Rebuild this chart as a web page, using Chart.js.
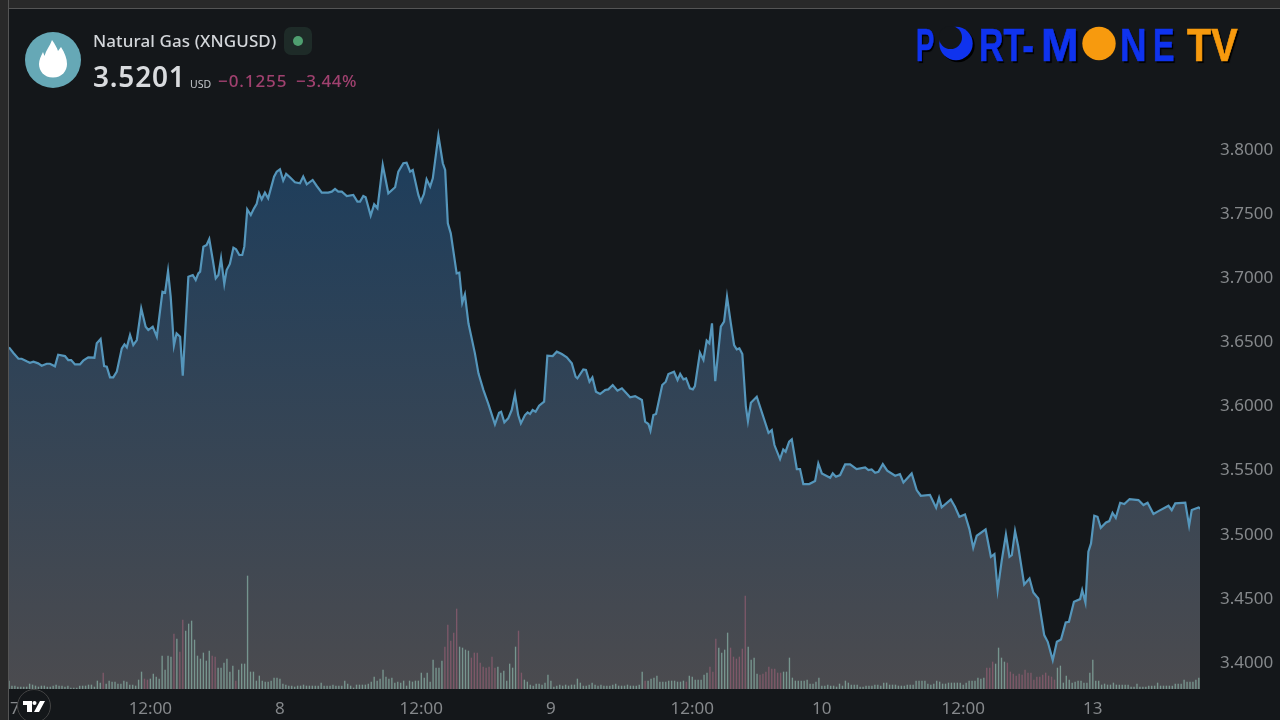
<!DOCTYPE html>
<html lang="en">

<head>
    <meta charset="UTF-8">
    <title>Natural Gas (XNGUSD)</title>
    <style>
        html, body { margin: 0; padding: 0; background: #14171a; overflow: hidden; }
        #wrap { position: relative; width: 1280px; height: 720px; font-family: "Noto Sans", sans-serif; }
        #myChart { position: absolute; left: 0; top: 0; }
        .abs { position: absolute; white-space: nowrap; line-height: 1; }
        .frameTop { left: 0; top: 0; width: 1280px; height: 8px; background: #292929; border-bottom: 1px solid #555; }
        .frameLeft { left: 0; top: 0; width: 8px; height: 720px; background: #292929; border-right: 1px solid #555; }
        .logo { font-family: "Liberation Sans", sans-serif; font-weight: 700; font-size: 46px; top: 22px;
                -webkit-text-stroke: .7px currentColor; text-shadow: 2px 2px 1px #000; transform-origin: left top; }
        svg { position: absolute; left: 0; top: 0; }
    </style>
</head>

<body>
    <div id="wrap">
        <canvas id="myChart" width="1280" height="720"></canvas>

        <svg width="1280" height="720">
            <circle cx="53" cy="60" r="28" fill="#66a8b6"></circle>
            <path d="M53 77.500 C44 77.500 39 71 39 64 C39 60 41 56 43 52 L44.500 56 C46 50 50 46 52 40 C55 44 57 48 58 51 L61 47 C65 53 67 59 67 64 C67 71 62 77.500 53 77.500 Z" fill="#fff"></path>
            <rect x="284" y="27" width="28" height="28" rx="7" fill="#1e2b28"></rect>
            <circle cx="298" cy="41" r="5" fill="#4f9f70"></circle>
            <circle cx="958" cy="45.500" r="16.700" fill="#000"></circle>
            <circle cx="956" cy="43.500" r="16.700" fill="#0f33ee"></circle>
            <circle cx="950.500" cy="37.500" r="11.500" fill="#14171a"></circle>
            <circle cx="1099" cy="43.500" r="16.700" fill="#f79a0e"></circle>
            <circle cx="34" cy="706" r="16.500" fill="#14171a" stroke="#444" stroke-width="1"></circle>
            <path d="M23 701 L32 701 L32 712 L27 712 L27 705 L23 705 Z M40 701 L45 701 L39 712 L34 712 Z" fill="#fff"></path>
            <circle cx="34.500" cy="703" r="2" fill="#fff"></circle>
        </svg>

        <div class="abs frameTop"></div>
        <div class="abs frameLeft"></div>

        <div class="abs" style="left:93px;top:32px;font-size:17px;font-weight:500;letter-spacing:.1px;color:#d3d6da;">Natural Gas (XNGUSD)</div>
        <div class="abs" style="left:93px;top:62px;font-size:28px;font-weight:600;letter-spacing:.8px;color:#d9dbde;">3.5201</div>
        <div class="abs" style="left:190px;top:79px;font-size:10.500px;color:#c3c6ca;">USD</div>
        <div class="abs" style="left:218px;top:72px;font-size:17px;font-weight:500;letter-spacing:.9px;color:#a0416f;">−0.1255</div>
        <div class="abs" style="left:296px;top:72px;font-size:17px;font-weight:500;letter-spacing:.5px;color:#a0416f;">−3.44%</div>

        <div class="abs logo" style="left:916px;color:#0f33ee;transform:scaleX(.6);">P</div>
        <div class="abs logo" style="left:979px;color:#0f33ee;transform:scaleX(.74);">RT-</div>
        <div class="abs logo" style="left:1041px;color:#0f33ee;transform:scaleX(.98);">M</div>
        <div class="abs logo" style="left:1120px;color:#0f33ee;transform:scaleX(.8);">N</div>
        <div class="abs logo" style="left:1153px;color:#0f33ee;transform:scaleX(.7);">E</div>
        <div class="abs logo" style="left:1187px;color:#f79a0e;transform:scaleX(.86);">TV</div>
    </div>

    <script src="https://cdn.jsdelivr.net/npm/chart.js"></script>

    <script>
        // Bars are 15 minute candles, 92 of them per trading day
        var xTickBars = [2, 48, 92, 140, 184, 232, 276, 324, 368];
        var xTickLabels = ["7", "12:00", "8", "12:00", "9", "12:00", "10", "12:00", "13"];
        var yTicks = [3.40, 3.45, 3.50, 3.55, 3.60, 3.65, 3.70, 3.75, 3.80];

        var priceBars = [
            0, 1.5, 3.2, 4.3, 6, 7.1, 8.3, 9.9, 11.1, 12.8, 13.9, 15.6, 16.7, 19, 20.1, 21.1, 22.4, 24.1, 25.2, 26.9,
            29, 29.8, 31.1, 32.3, 33.2, 34.3, 35.4, 36.6, 38.3, 39.2, 40, 41.1, 42.2, 43.4, 44.9, 46.4, 47.3, 48.8, 50.2, 52.1,
            53, 54, 54.9, 56, 56.9, 58.1, 59, 60.9, 62.4, 63.4, 64.3, 64.9, 66, 67.1, 68, 69.2, 70.2, 71.1, 72, 73.1,
            73.9, 75, 76.2, 77.1, 78.2, 79.2, 79.9, 80.9, 82.1, 83.2, 84.1, 84.9, 85.8, 86.9, 88, 90, 90.9, 92, 93.1, 94.1,
            95.4, 97.1, 98.8, 99.9, 101.1, 103.1, 104.5, 106.2, 108.4, 109.6, 110.7, 111.8, 113, 114.7, 116.9, 118.3, 119.2, 120.3, 121.1, 122.8,
            124, 125.1, 126.9, 128.8, 131.1, 132.2, 133.9, 135, 136.2, 137.1, 139, 139.8, 140.9, 141.8, 143, 143.9, 145.8, 147.3, 148.1, 149,
            150, 152, 152.9, 153.9, 154.8, 156, 158.2, 159.4, 161.1, 162.7, 165, 166.4, 167.1, 168.2, 169.5, 170.7, 171.8, 172.9, 173.8, 175.2,
            176.1, 176.9, 177.8, 178.8, 180, 181.7, 182.8, 184.6, 186, 187.7, 189.4, 191.1, 192.4, 193, 195, 195.9, 197.1, 198.1, 199.3, 200.7,
            202.4, 203.5, 205, 206.6, 208.1, 210.9, 212.6, 214.9, 216, 217.1, 217.8, 218.8, 219.7, 221.8, 223, 223.9, 225.8, 227, 227.9, 229,
            229.9, 231.2, 232.2, 232.9, 234.6, 235.8, 236.9, 237.8, 238.7, 239.8, 241.7, 242.8, 243.8, 245.1, 246.2, 247.1, 248, 249, 250.2, 250.9,
            251.9, 253.9, 257.9, 259, 259.9, 261.8, 262.9, 263.7, 264.9, 265.8, 267.5, 268.6, 269.7, 271.7, 273.7, 274.8, 276, 278.8, 279.7, 280.8,
            282.2, 283.9, 285.6, 287.8, 290.7, 291.8, 292.9, 294.1, 295.2, 296.7, 298.2, 300.9, 302.5, 303.7, 306.5, 308.2, 309.6, 312.7, 314.8, 315.8,
            316.7, 319.8, 321.2, 322.7, 324.6, 326.1, 327.4, 328.6, 331.6, 333.4, 334.6, 335.7, 337.1, 338.5, 339.7, 340.5, 341.6, 342.7, 344.7, 346.5,
            347.8, 349.5, 351.5, 352.7, 354.4, 355.8, 357.2, 358.8, 359.9, 361.6, 363.7, 364.4, 365.5, 366.5, 367.4, 368.5, 369.6, 370.7, 372.5, 373.6,
            374.7, 375.8, 377.3, 378.7, 380.5, 383.5, 385.2, 386.6, 388.6, 390.3, 393.7, 394.8, 396, 399.4, 400.7, 401.6, 403.9, 404.7
        ];

        var priceValues = [
            3.6461, 3.6417, 3.6372, 3.6372, 3.6352, 3.6341, 3.6349, 3.6336, 3.6318, 3.6333, 3.6333, 3.6313, 3.6403, 3.6393, 3.6362, 3.6362, 3.6328, 3.6328, 3.6357, 3.6383,
            3.6380, 3.6492, 3.6526, 3.6315, 3.6310, 3.6227, 3.6227, 3.6271, 3.6453, 3.6484, 3.6461, 3.6557, 3.6479, 3.6518, 3.6765, 3.6622, 3.6596, 3.6622, 3.6544, 3.6895,
            3.6887, 3.7056, 3.6856, 3.6474, 3.6570, 3.6544, 3.6240, 3.7012, 3.7025, 3.6986, 3.7038, 3.7051, 3.7246, 3.7259, 3.7306, 3.7142, 3.6999, 3.7025, 3.7155, 3.6955,
            3.7064, 3.7111, 3.7238, 3.7225, 3.7181, 3.7181, 3.7246, 3.7537, 3.7493, 3.7545, 3.7579, 3.7662, 3.7615, 3.7667, 3.7623, 3.7792, 3.7831, 3.7849, 3.7761, 3.7813,
            3.7787, 3.7748, 3.7740, 3.7792, 3.7732, 3.7766, 3.7719, 3.7667, 3.7667, 3.7675, 3.7696, 3.7675, 3.7675, 3.7641, 3.7649, 3.7597, 3.7597, 3.7641, 3.7631, 3.7488,
            3.7576, 3.7545, 3.7883, 3.7662, 3.7709, 3.7831, 3.7896, 3.7901, 3.7831, 3.7844, 3.7649, 3.7597, 3.7657, 3.7771, 3.7714, 3.7779, 3.8112, 3.7896, 3.7844, 3.7428,
            3.7350, 3.7038, 3.7043, 3.6809, 3.6874, 3.6648, 3.6414, 3.6258, 3.6128, 3.6024, 3.5860, 3.5951, 3.5959, 3.5876, 3.5907, 3.5972, 3.6094, 3.5933, 3.5868, 3.5933,
            3.5954, 3.5941, 3.5972, 3.5959, 3.6006, 3.6037, 3.6396, 3.6393, 3.6427, 3.6409, 3.6383, 3.6336, 3.6232, 3.6219, 3.6289, 3.6284, 3.6193, 3.6227, 3.6115, 3.6097,
            3.6128, 3.6133, 3.6167, 3.6123, 3.6141, 3.6071, 3.6081, 3.6050, 3.5881, 3.5863, 3.5811, 3.5933, 3.5941, 3.6167, 3.6193, 3.6253, 3.6271, 3.6206, 3.6253, 3.6211,
            3.6219, 3.6141, 3.6133, 3.6159, 3.6419, 3.6362, 3.6513, 3.6492, 3.6648, 3.6198, 3.6622, 3.6661, 3.6856, 3.6648, 3.6479, 3.6445, 3.6453, 3.6409, 3.5998, 3.5886,
            3.6029, 3.6076, 3.5795, 3.5816, 3.5699, 3.5590, 3.5665, 3.5647, 3.5725, 3.5743, 3.5512, 3.5512, 3.5395, 3.5395, 3.5418, 3.5556, 3.5478, 3.5444, 3.5478, 3.5452,
            3.5465, 3.5548, 3.5548, 3.5512, 3.5525, 3.5504, 3.5509, 3.5483, 3.5491, 3.5551, 3.5499, 3.5460, 3.5473, 3.5408, 3.5478, 3.5348, 3.5304, 3.5311, 3.5210, 3.5288,
            3.5213, 3.5275, 3.5218, 3.5140, 3.5158, 3.5044, 3.4898, 3.4992, 3.5041, 3.4828, 3.4849, 3.4568, 3.4802, 3.5002, 3.4828, 3.4841, 3.5028, 3.4906, 3.4612, 3.4659,
            3.4550, 3.4503, 3.4217, 3.4165, 3.4022, 3.4165, 3.4183, 3.4316, 3.4321, 3.4477, 3.4498, 3.4568, 3.4472, 3.4867, 3.4932, 3.5148, 3.5140, 3.5054, 3.5096, 3.5106,
            3.5171, 3.5132, 3.5249, 3.5239, 3.5278, 3.5270, 3.5231, 3.5249, 3.5161, 3.5184, 3.5226, 3.5192, 3.5244, 3.5249, 3.5070, 3.5192, 3.5213, 3.5201
        ];

        var volumeValues = [
            8, 3, 3, 2, 2, 2, 2, 5, 4, 3, 2, 3, 3, 2, 2, 3, 4, 3, 3, 2, 3, 1, 1, 1, 3, 3, 3, 4, 4, 2,
            8, 6, 16, 5, 8, 7, 7, 5, 5, 8, 7, 4, 4, 3, 9, 17, 10, 9, 10, 15, 12, 10, 33, 19, 33, 32, 55, 50, 37, 69,
            58, 65, 68, 49, 33, 30, 36, 28, 38, 33, 32, 21, 21, 26, 30, 17, 23, 8, 19, 25, 25, 113, 17, 17, 8, 13, 8, 7, 7, 8,
            11, 11, 10, 5, 4, 3, 3, 2, 3, 3, 4, 3, 3, 3, 3, 3, 6, 3, 3, 3, 4, 3, 3, 3, 8, 5, 3, 1, 4, 4, 4, 4,
            5, 7, 12, 8, 10, 19, 12, 10, 11, 6, 7, 6, 8, 3, 8, 7, 8, 8, 16, 11, 16, 7, 29, 21, 21, 28, 42, 64, 48, 56, 80,
            42, 41, 39, 38, 31, 36, 36, 26, 22, 21, 22, 32, 21, 22, 16, 18, 8, 25, 21, 42, 58, 16, 9, 7, 4, 3, 5, 5, 4, 6, 14, 8, 2,
            3, 4, 3, 4, 3, 4, 4, 10, 6, 3, 3, 4, 6, 4, 3, 4, 3, 3, 3, 4, 5, 3, 3, 3, 4, 3, 3, 3, 4,
            17, 8, 8, 10, 11, 13, 7, 7, 7, 8, 8, 8, 7, 7, 8, 7, 13, 12, 9, 9, 9, 14, 16, 22, 17, 50, 41, 36, 39, 56, 41, 32, 30, 32, 40,
            93, 42, 29, 31, 15, 14, 15, 17, 22, 20, 20, 16, 16, 17, 17, 31, 11, 8, 8, 8, 8, 9, 5, 5, 7, 11, 3,
            3, 4, 3, 3, 2, 5, 3, 8, 6, 4, 4, 4, 2, 2, 3, 3, 3, 4, 4, 3, 6, 6, 4, 4, 4, 3, 3, 3, 4, 4, 4, 8, 8, 8, 8, 5, 4, 5, 8, 7, 5, 5, 6, 6, 6, 6, 6,
            4, 6, 8, 8, 8, 11, 10, 11, 21, 21, 27, 25, 41, 31, 27, 26, 17, 15, 13, 15, 14, 19, 16, 16, 9, 12, 12, 14, 16, 13, 12, 9, 21, 23,
            6, 13, 9, 6, 7, 8, 8, 6, 6, 16, 29, 8, 8, 4, 5, 4, 4, 6, 4, 4, 4, 4, 4, 2, 2, 5, 2, 2, 2, 3, 3, 3, 6, 3, 3, 3, 3, 3, 5, 5, 5, 9, 7, 7, 7, 9, 11
        ];

        // bars of the volume pane that close lower
        var downBars = [
            32, 46, 47, 56, 58, 59, 69, 70, 77, 148, 149, 150, 151, 152, 157, 158, 159, 160, 161, 162, 163, 164, 165, 173, 174,
            216, 230, 238, 239, 240, 245, 246, 247, 248, 249, 250, 255, 256, 257, 258, 259, 260, 261, 262,
            332, 333, 334, 339, 340, 341, 342, 343, 344, 345, 346, 347, 348, 349, 350, 351, 352, 353, 354, 355
        ];

        var chrt = document.getElementById("myChart").getContext("2d");

        function areaFill(context) {
            var area = context.chart.chartArea;
            if (!area) return "#2b4560";
            var g = context.chart.ctx.createLinearGradient(0, 135, 0, area.bottom);
            g.addColorStop(0, "rgb(28,61,92)");
            g.addColorStop(1, "rgb(75,75,79)");
            return g;
        }

        // the first and last labels must not push the plot area in
        function noPadding(axis) {
            axis.paddingLeft = 0;
            axis.paddingRight = 0;
            axis.paddingTop = 0;
            axis.paddingBottom = 0;
        }

        var chartId = new Chart(chrt, {
            data: {
                datasets: [{
                    type: "bar",
                    data: volumeValues.map(function (v, i) { return { x: i, y: v }; }),
                    yAxisID: "yVol",
                    order: 0,
                    barThickness: 0.7,
                    backgroundColor: volumeValues.map(function (v, i) {
                        return downBars.indexOf(i) >= 0 ? "rgba(170,100,125,0.55)" : "rgba(150,200,185,0.6)";
                    }),
                }, {
                    type: "line",
                    data: priceBars.map(function (b, i) { return { x: b, y: priceValues[i] }; }),
                    yAxisID: "y",
                    order: 1,
                    borderColor: "#5596bb",
                    borderWidth: 2.2,
                    pointRadius: 0,
                    tension: 0,
                    fill: "start",
                    backgroundColor: areaFill,
                }],
            },
            options: {
                responsive: false,
                animation: false,
                devicePixelRatio: 1,
                layout: { padding: { left: 9, top: 9, right: 0, bottom: 0 } },
                plugins: { legend: { display: false }, tooltip: { enabled: false } },
                scales: {
                    x: {
                        type: "linear",
                        offset: false,
                        min: 0,
                        max: 404.4,
                        grid: { display: false, drawTicks: false },
                        border: { display: false },
                        afterBuildTicks: function (axis) {
                            axis.ticks = xTickBars.map(function (b) { return { value: b }; });
                        },
                        afterFit: function (axis) { axis.height = 31; noPadding(axis); },
                        ticks: {
                            autoSkip: false,
                            maxRotation: 0,
                            padding: 10,
                            color: "#85888b",
                            font: { family: "Noto Sans", size: 17 },
                            callback: function (value) { return xTickLabels[xTickBars.indexOf(value)]; },
                        },
                    },
                    y: {
                        position: "right",
                        min: 3.3797,
                        max: 3.9099,
                        grid: { display: false, drawTicks: false },
                        border: { display: false },
                        afterBuildTicks: function (axis) {
                            axis.ticks = yTicks.map(function (v) { return { value: v }; });
                        },
                        afterFit: function (axis) { axis.width = 80; noPadding(axis); },
                        ticks: {
                            padding: 20,
                            color: "#85888b",
                            font: { family: "Noto Sans", size: 17 },
                            callback: function (value) { return value.toFixed(4); },
                        },
                    },
                    yVol: {
                        display: false,
                        min: 0,
                        max: 680,
                    },
                },
            },
        });
    </script>
</body>

</html>
